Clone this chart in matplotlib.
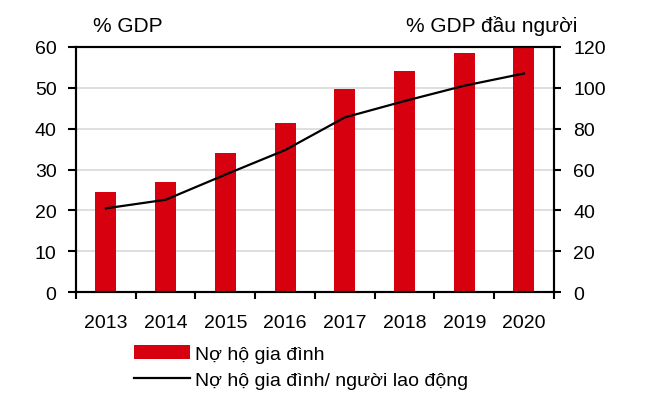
import matplotlib
matplotlib.use('Agg')
import matplotlib.pyplot as plt
from matplotlib.patches import Patch
from matplotlib.lines import Line2D

years = ['2013', '2014', '2015', '2016', '2017', '2018', '2019', '2020']
household_debt = [24.4, 26.9, 34.0, 41.3, 49.6, 54.2, 58.4, 60.2]
debt_per_worker = [41.0, 45.2, 57.5, 69.5, 85.5, 93.5, 101.0, 107.0]

RED = '#d7000f'
plt.rcParams['font.family'] = ['Liberation Sans', 'DejaVu Sans']

fig = plt.figure(figsize=(6.5, 4.06), dpi=100)
ax = fig.add_axes([0.117, 0.278, 0.735, 0.604])
ax2 = ax.twinx()

x = list(range(len(years)))
ax.bar(x, household_debt, width=0.35, color=RED, zorder=3, clip_on=False)
ax2.plot(x, debt_per_worker, color='black', lw=1.6, zorder=4)

ax.set_xlim(-0.5, len(years) - 0.5)
ax.set_ylim(0, 60)
ax2.set_ylim(0, 120)
ax.set_yticks(range(0, 61, 10))
ax2.set_yticks(range(0, 121, 20))
ax.set_xticks(x)
ax.set_xticklabels(years)
ax.set_xticks([i - 0.5 for i in range(len(years) + 1)], minor=True)
ax.tick_params(axis='x', which='major', length=0, pad=16, labelsize=14)
ax.tick_params(axis='x', which='minor', length=5, width=1.5, direction='out')
ax.tick_params(axis='y', length=6, width=1.5, labelsize=14, pad=8)
ax2.tick_params(axis='y', length=5, width=1.5, labelsize=14, pad=9)

ax.grid(axis='y', color='#d9d9d9', lw=1.2, zorder=0)
ax.set_axisbelow(True)
ax2.set_zorder(ax.get_zorder() + 1)
ax2.patch.set_visible(False)
for a in (ax, ax2):
    for s in a.spines.values():
        s.set_linewidth(1.5)
        s.set_color('black')

fig.text(0.143, 0.935, '% GDP', fontsize=15, ha='left', va='center')
fig.text(0.888, 0.935, '% GDP đầu người', fontsize=15, ha='right', va='center')

handles = [Patch(facecolor=RED, edgecolor='none'),
           Line2D([], [], color='black', lw=1.6)]
labels = ['Nợ hộ gia đình', 'Nợ hộ gia đình/ người lao động']
fig.legend(handles, labels, loc='upper left', bbox_to_anchor=(0.206, 0.148),
           frameon=False, fontsize=14, handlelength=2.9, handleheight=0.7,
           handletextpad=0.25, labelspacing=0.45, borderpad=0, borderaxespad=0)

fig.savefig('out.png', dpi=100)
